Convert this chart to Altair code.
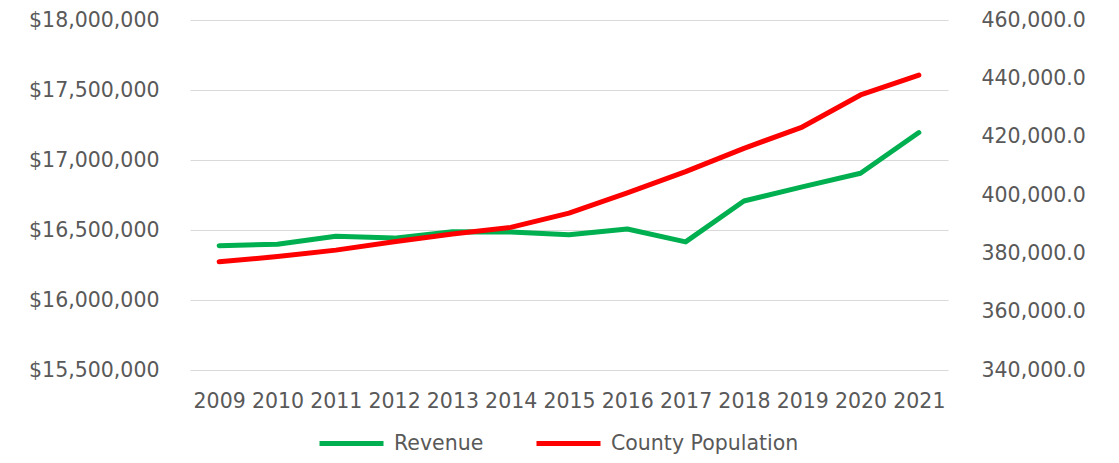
import altair as alt
import pandas as pd

years = ["2009", "2010", "2011", "2012", "2013", "2014", "2015",
         "2016", "2017", "2018", "2019", "2020", "2021"]
revenue = [16388000, 16398000, 16455000, 16442000, 16487000, 16485000, 16466000,
           16507000, 16415000, 16707000, 16808000, 16905000, 17196000]
population = [377100, 378900, 381100, 384000, 386600, 388900, 393800,
              400700, 408000, 416000, 423300, 434300, 441100]

series_names = ["Revenue", "County Population"]
series_colors = ["#00b050", "#ff0000"]
left_ticks = [15500000, 16000000, 16500000, 17000000, 17500000, 18000000]
right_ticks = [340000, 360000, 380000, 400000, 420000, 440000, 460000]

df = pd.DataFrame({"year": years, "revenue": revenue, "population": population})

FONT = "DejaVu Sans"
LABEL = "#595959"

x_enc = alt.X("year:O", sort=years, title=None,
              scale=alt.Scale(paddingOuter=0.5),
              axis=alt.Axis(labelAngle=0, domain=False, ticks=False,
                            labelPadding=21, labelFontSize=20.5,
                            labelOverlap=False,
                            labelColor=LABEL, labelFont=FONT))

color_scale = alt.Scale(domain=series_names, range=series_colors)
legend = alt.Legend(title=None, orient="none", legendX=127, legendY=389,
                    direction="horizontal", symbolType="stroke",
                    symbolSize=4096, symbolStrokeWidth=5,
                    labelFontSize=20.5, labelColor=LABEL, labelFont=FONT,
                    labelLimit=400,
                    labelOffset=8, columnPadding=42, padding=0)

rev = alt.Chart(df).transform_calculate(series="'Revenue'").mark_line(
    strokeWidth=5, strokeCap="round", strokeJoin="round").encode(
    x=x_enc,
    y=alt.Y("revenue:Q", title=None,
            scale=alt.Scale(domain=[15500000, 18000000], nice=False, zero=False),
            axis=alt.Axis(values=left_ticks, format="$,.0f", orient="left",
                          domain=False, ticks=False, grid=True,
                          gridColor="#d9d9d9", gridWidth=1,
                          labelPadding=31, labelFontSize=20.5,
                          labelColor=LABEL, labelFont=FONT)),
    color=alt.Color("series:N", scale=color_scale, legend=legend),
)

pop = alt.Chart(df).transform_calculate(series="'County Population'").mark_line(
    strokeWidth=5, strokeCap="round", strokeJoin="round").encode(
    x=x_enc,
    y=alt.Y("population:Q", title=None,
            scale=alt.Scale(domain=[340000, 460000], nice=False, zero=False),
            axis=alt.Axis(values=right_ticks, format=",.1f", orient="right",
                          domain=False, ticks=False, grid=False,
                          labelPadding=33, labelFontSize=20.5,
                          labelColor=LABEL, labelFont=FONT)),
    color=alt.Color("series:N", scale=color_scale, legend=legend),
)

chart = alt.layer(rev, pop).resolve_scale(y="independent").properties(
    width=758, height=350,
    autosize="none",
    padding={"left": 182, "top": 12, "right": 163, "bottom": 85},
).configure(background="white").configure_view(stroke=None)

chart.save("out.html", embed_options={"renderer": "svg", "actions": False})
